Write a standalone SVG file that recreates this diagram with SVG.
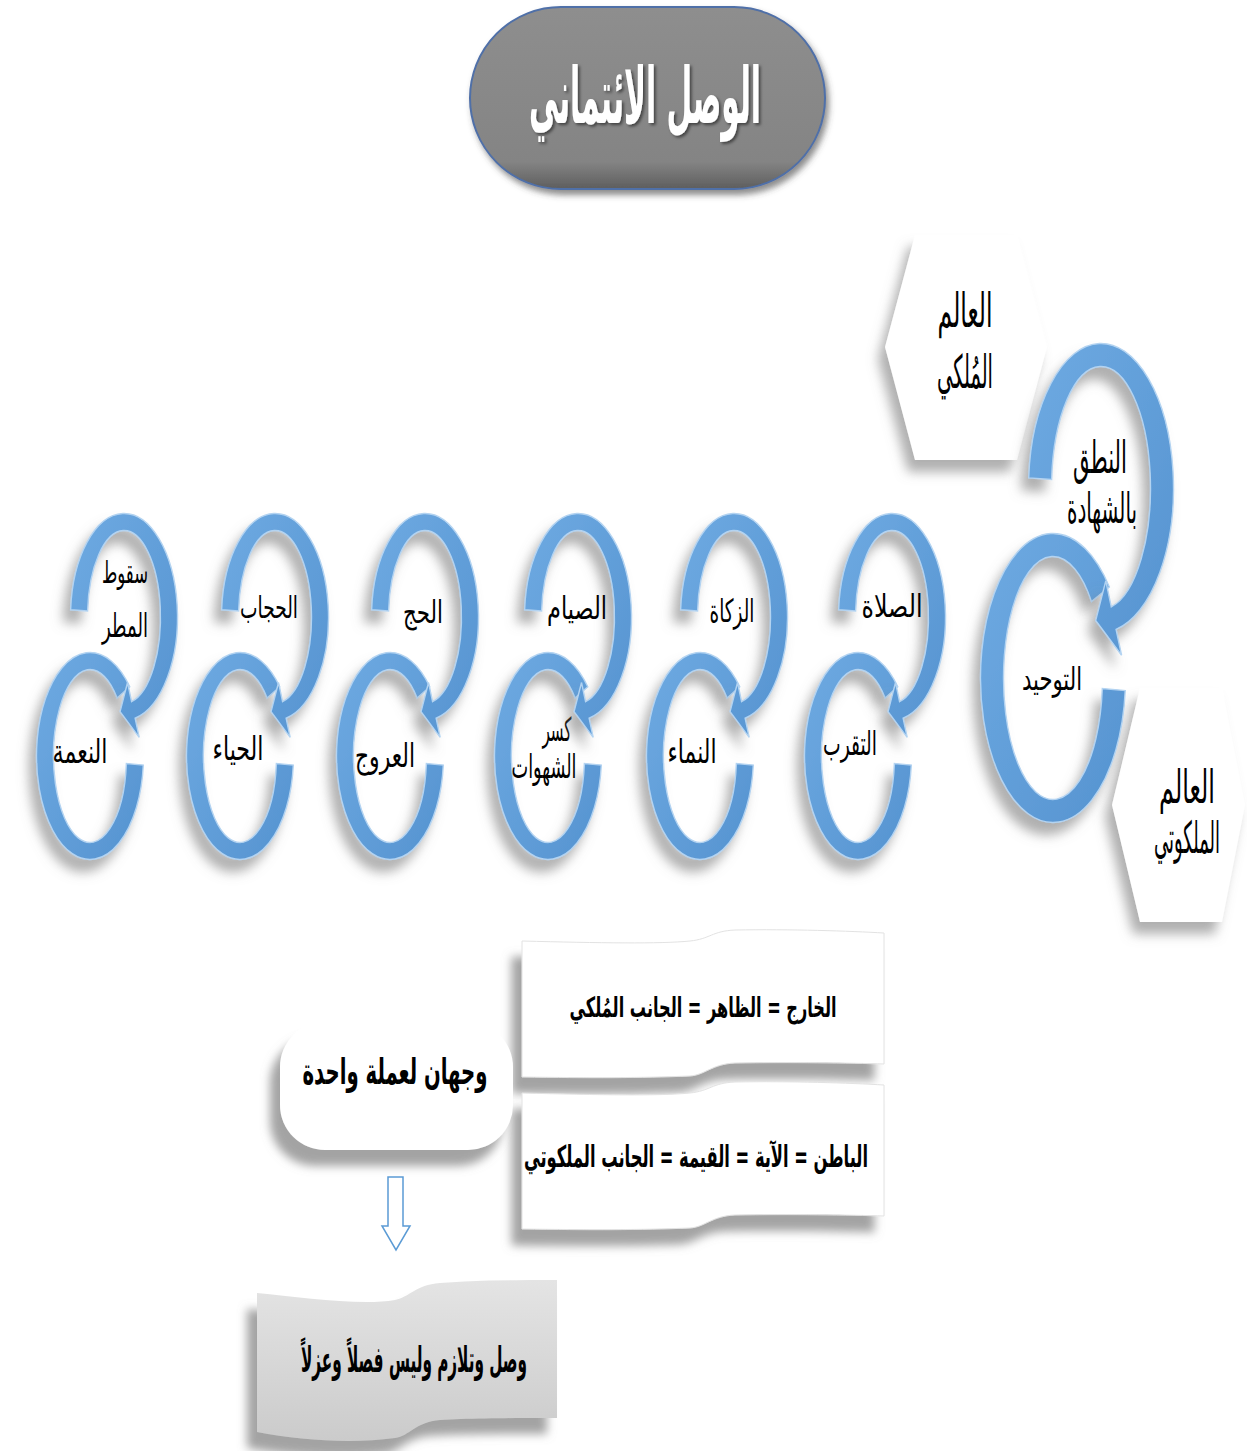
<svg xmlns="http://www.w3.org/2000/svg" xmlns:xlink="http://www.w3.org/1999/xlink" width="1247" height="1451" viewBox="0 0 1247 1451">
<style>
.t{font-family:"DejaVu Sans","Noto Sans",sans-serif;fill:#000;text-anchor:middle}
.b{font-weight:bold}
.ring{fill:url(#ringGrad);stroke:#b3d3f1;stroke-width:1.4}
.hex{fill:#fff}
.wave{fill:#fff;stroke:#e2e2e2;stroke-width:1}
</style>
<defs>
<filter id="sh" x="-40%" y="-30%" width="180%" height="170%">
<feDropShadow dx="-7" dy="12" stdDeviation="6" flood-color="#7a7a7a" flood-opacity="0.6"/>
</filter>
<filter id="shBox" x="-20%" y="-30%" width="140%" height="170%">
<feDropShadow dx="-10" dy="16" stdDeviation="5" flood-color="#8c8c8c" flood-opacity="0.8"/>
</filter>
<filter id="shTitle" x="-10%" y="-10%" width="125%" height="130%">
<feDropShadow dx="3" dy="5" stdDeviation="3" flood-color="#404040" flood-opacity="0.6"/>
</filter>
<filter id="txtSh" x="-10%" y="-20%" width="120%" height="150%">
<feDropShadow dx="2" dy="2" stdDeviation="1.5" flood-color="#000" flood-opacity="0.5"/>
</filter>
<linearGradient id="ringGrad" x1="0" y1="0" x2="1" y2="1">
<stop offset="0" stop-color="#6eaae2"/>
<stop offset="1" stop-color="#5593d0"/>
</linearGradient>
<linearGradient id="titleGrad" x1="0" y1="0" x2="0" y2="1">
<stop offset="0" stop-color="#8e8e8e"/>
<stop offset="0.85" stop-color="#848484"/>
<stop offset="1" stop-color="#5e5e5e"/>
</linearGradient>
<linearGradient id="grayGrad" x1="0" y1="0" x2="0" y2="1">
<stop offset="0" stop-color="#e4e4e4"/>
<stop offset="1" stop-color="#cbcbcb"/>
</linearGradient>
<path id="smallLow" d="M 39.76,-69.25 A 53.5 103.5 0 1 0 53.30,9.03 L 36.36,7.54 A 36.5 86.5 0 1 1 27.12,-57.88 Z"/>
<path id="smallUp" d="M -53.37,-7.22 A 53.5 103.5 0 1 1 11.12,101.23 L 15.18,120.31 L -3.92,94.64 L 3.53,65.53 L 7.59,84.61 A 36.5 86.5 0 1 0 -36.41,-6.04 Z"/>
<path id="bigLow" d="M 56.34,-90.93 A 72.5 144.5 0 1 0 72.22,12.60 L 49.31,10.59 A 49.5 121.5 0 1 1 38.47,-76.46 Z"/>
<path id="bigUp" d="M -72.33,-10.09 A 72.5 144.5 0 1 1 15.07,141.34 L 20.58,167.26 L -5.32,132.49 L 4.78,92.92 L 10.29,118.84 A 49.5 121.5 0 1 0 -49.38,-8.48 Z"/>
</defs>

<rect width="1247" height="1451" fill="#fff"/>

<g id="title">
<rect x="470" y="7" width="355" height="182" rx="91" fill="url(#titleGrad)" stroke="#4f6fa8" stroke-width="2" filter="url(#shTitle)"/>
<text class="t b" x="645" y="123" font-size="78" textLength="232" lengthAdjust="spacingAndGlyphs" style="fill:#fff" filter="url(#txtSh)">الوصل الائتماني</text>
</g>

<g id="hex-mulki">
<polygon class="hex" points="915,235 1017,235 1047,347 1017,460 915,460 885,347" filter="url(#sh)"/>
<text class="t" x="965" y="327" font-size="48" textLength="55" lengthAdjust="spacingAndGlyphs">العالم</text>
<text class="t" x="965" y="388" font-size="46" textLength="56" lengthAdjust="spacingAndGlyphs">المُلكي</text>
</g>

<g id="hex-malakuti">
<polygon class="hex" points="1140,688 1222,688 1245,805 1222,922 1140,922 1112,805" filter="url(#sh)"/>
<text class="t" transform="translate(1187,803) scale(0.5,1)" font-size="46" textLength="112" lengthAdjust="spacingAndGlyphs">العالم</text>
<text class="t" transform="translate(1187,853) scale(0.5,1)" font-size="44" textLength="132" lengthAdjust="spacingAndGlyphs">الملكوتي</text>
</g>

<g id="tawhid">
<use href="#bigLow" class="ring" transform="translate(1053,678)" filter="url(#sh)"/>
<text class="t" x="1052" y="690" font-size="32" textLength="60" lengthAdjust="spacingAndGlyphs">التوحيد</text>
</g>
<g id="shahada">
<use href="#bigUp" class="ring" transform="translate(1101,488)" filter="url(#sh)"/>
<text class="t" x="1100" y="473" font-size="45" textLength="54" lengthAdjust="spacingAndGlyphs">النطق</text>
<text class="t" x="1102" y="523" font-size="42" textLength="70" lengthAdjust="spacingAndGlyphs">بالشهادة</text>
</g>

<g id="taqarrub">
<use href="#smallLow" class="ring" transform="translate(858,756)" filter="url(#sh)"/>
<text class="t" x="850" y="755" font-size="33" textLength="54" lengthAdjust="spacingAndGlyphs">التقرب</text>
</g>
<g id="salat">
<use href="#smallUp" class="ring" transform="translate(892,617)" filter="url(#sh)"/>
<text class="t" x="892" y="617" font-size="31" textLength="61" lengthAdjust="spacingAndGlyphs">الصلاة</text>
</g>

<g id="namaa">
<use href="#smallLow" class="ring" transform="translate(700,756)" filter="url(#sh)"/>
<text class="t" x="692" y="763" font-size="33" textLength="49" lengthAdjust="spacingAndGlyphs">النماء</text>
</g>
<g id="zakat">
<use href="#smallUp" class="ring" transform="translate(734,617)" filter="url(#sh)"/>
<text class="t" x="732" y="622" font-size="32" textLength="45" lengthAdjust="spacingAndGlyphs">الزكاة</text>
</g>

<g id="kasr">
<use href="#smallLow" class="ring" transform="translate(548,756)" filter="url(#sh)"/>
<text class="t" x="557" y="741" font-size="33" textLength="29" lengthAdjust="spacingAndGlyphs">كسر</text>
<text class="t" x="544" y="778" font-size="33" textLength="65" lengthAdjust="spacingAndGlyphs">الشهوات</text>
</g>
<g id="siyam">
<use href="#smallUp" class="ring" transform="translate(578,617)" filter="url(#sh)"/>
<text class="t" x="577" y="619" font-size="31" textLength="60" lengthAdjust="spacingAndGlyphs">الصيام</text>
</g>

<g id="uruj">
<use href="#smallLow" class="ring" transform="translate(390,756)" filter="url(#sh)"/>
<text class="t" x="385" y="767" font-size="33" textLength="60" lengthAdjust="spacingAndGlyphs">العروج</text>
</g>
<g id="hajj">
<use href="#smallUp" class="ring" transform="translate(425,617)" filter="url(#sh)"/>
<text class="t" x="423" y="623" font-size="31" textLength="40" lengthAdjust="spacingAndGlyphs">الحج</text>
</g>

<g id="hayaa">
<use href="#smallLow" class="ring" transform="translate(240,756)" filter="url(#sh)"/>
<text class="t" x="238" y="760" font-size="33" textLength="51" lengthAdjust="spacingAndGlyphs">الحياء</text>
</g>
<g id="hijab">
<use href="#smallUp" class="ring" transform="translate(275,617)" filter="url(#sh)"/>
<text class="t" x="269" y="618" font-size="30" textLength="58" lengthAdjust="spacingAndGlyphs">الحجاب</text>
</g>

<g id="nima">
<use href="#smallLow" class="ring" transform="translate(90,756)" filter="url(#sh)"/>
<text class="t" x="80" y="763" font-size="33" textLength="55" lengthAdjust="spacingAndGlyphs">النعمة</text>
</g>
<g id="matar">
<use href="#smallUp" class="ring" transform="translate(124,617)" filter="url(#sh)"/>
<text class="t" x="125" y="583" font-size="30" textLength="46" lengthAdjust="spacingAndGlyphs">سقوط</text>
<text class="t" x="125" y="637" font-size="33" textLength="46" lengthAdjust="spacingAndGlyphs">المطر</text>
</g>

<g id="kharij">
<path class="wave" filter="url(#shBox)" d="M 522,941 C 600,943 660,944 690,941 C 710,939 712,931 735,930 C 790,929 850,931 884,933 L 884,1064 C 850,1063 790,1062 735,1063 C 712,1064 705,1075 690,1076 C 640,1078 590,1078 522,1077 Z"/>
<text class="t b" x="703" y="1017" font-size="28" textLength="267" lengthAdjust="spacingAndGlyphs">الخارج = الظاهر = الجانب المُلكي</text>
</g>

<g id="batin">
<path class="wave" filter="url(#shBox)" d="M 522,1093 C 600,1095 660,1096 690,1093 C 710,1091 712,1083 735,1082 C 790,1081 850,1083 884,1085 L 884,1216 C 850,1215 790,1214 735,1215 C 712,1216 705,1227 690,1228 C 640,1230 590,1230 522,1229 Z"/>
<text class="t b" x="696" y="1167" font-size="30" textLength="344" lengthAdjust="spacingAndGlyphs">الباطن = الآية = القيمة = الجانب الملكوتي</text>
</g>

<g id="wajhan">
<rect x="280" y="1022" width="233" height="128" rx="45" fill="#fff" filter="url(#shBox)"/>
<text class="t b" x="395" y="1084" font-size="36" textLength="185" lengthAdjust="spacingAndGlyphs">وجهان لعملة واحدة</text>
</g>

<g id="wasl">
<path fill="url(#grayGrad)" filter="url(#shBox)" d="M 257,1293 C 300,1297 360,1306 395,1300 C 410,1297 415,1285 440,1283 C 480,1280 520,1280 557,1280 L 557,1418 C 520,1418 470,1418 440,1420 C 415,1422 410,1436 395,1438 C 350,1444 300,1440 257,1432 Z"/>
<text class="t b" x="414" y="1372" font-size="36" textLength="226" lengthAdjust="spacingAndGlyphs">وصل وتلازم وليس فصلاً وعزلاً</text>
</g>

<g id="connectors">
<path d="M 388,1177 L 403,1177 L 403,1226 L 410,1226 L 396,1250 L 382,1226 L 388,1226 Z" fill="#fff" stroke="#5b9bd5" stroke-width="1.5"/>
</g>
</svg>
